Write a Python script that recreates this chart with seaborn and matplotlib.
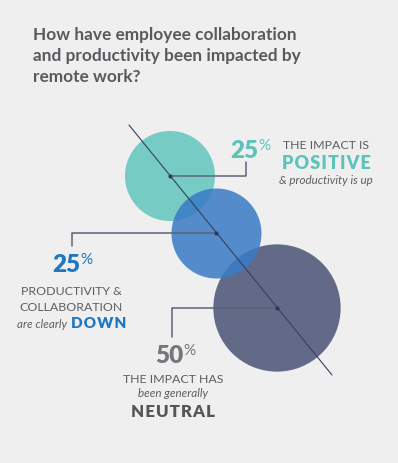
import matplotlib
matplotlib.use("Agg")
import matplotlib.pyplot as plt
import seaborn as sns
import pandas as pd

# ---- data ----
categories = ["Positive", "Down", "Neutral"]
values = [25, 25, 50]
title_lines = ["How have employee collaboration",
               "and productivity been impacted by",
               "remote work?"]

# ---- layout (pixel coords) ----
cx = [170, 216, 277]
cy = [177, 234, 309]
colors = {"Positive": "#76cbc4", "Down": "#3a7cc6", "Neutral": "#636a88"}
SIZE_PER_UNIT = 168  # pt^2 per percent (area proportional)

sns.set_theme(style="white")
plt.rcParams["font.family"] = ["Lato", "DejaVu Sans"]

BG = "#efefef"
fig = plt.figure(figsize=(3.98, 4.64), dpi=100, facecolor=BG)
ax = fig.add_axes([0, 0, 1, 1])
ax.set_facecolor(BG)

df = pd.DataFrame({"cat": categories, "val": values, "x": cx, "y": cy})
sizes = {v: v * SIZE_PER_UNIT for v in set(values)}

under = df[df.cat != "Down"]
sns.scatterplot(data=under, x="x", y="y", hue="cat", size="val", sizes=sizes,
                palette=colors, linewidth=0, alpha=1, legend=False, ax=ax, zorder=2)
top = df[df.cat == "Down"]
sns.scatterplot(data=top, x="x", y="y", hue="cat", size="val", sizes=sizes,
                palette=colors, linewidth=0, alpha=0.86, legend=False, ax=ax, zorder=3)
ax.set_xlim(0, 398)
ax.set_ylim(464, 0)
ax.axis("off")

# diagonal line through centers
ax.plot([129, 332], [126, 376], color="#34405e", lw=0.8, zorder=5)
ax.scatter(cx, cy, s=9, color="#2e3a57", zorder=6, linewidths=0)

# leader lines
LC = "#5a6379"
ax.plot([cx[0], 246, 246], [cy[0], cy[0], 163], color=LC, lw=1.1, zorder=4)
ax.plot([cx[1], 72, 72], [cy[1], cy[1], 247], color=LC, lw=1.1, zorder=4)
ax.plot([cx[2], 172, 172], [cy[2], cy[2], 338], color=LC, lw=1.1, zorder=4)

# title
TC = "#595a5e"
for i, line in enumerate(title_lines):
    ax.text(33, 40 + i * 21, line, fontsize=12.4, fontweight="bold", color=TC,
            ha="left", va="baseline")

GRAY = "#5d5e62"
TEAL = "#5cc3b9"
BLUE = "#1e77c0"
NUMG = "#76777b"

def spaced(s):
    return "\u200a".join(s)

def pct(xr, base, val, color, size=17.5):
    ax.text(xr, base, f"{val}", fontsize=size, fontweight="heavy", color=color,
            ha="right", va="baseline")
    ax.text(xr + 0.5, base - 19, "%", fontsize=11, fontweight="normal", color=color,
            ha="left", va="top")

# teal block
pct(258, 158, values[0], TEAL)
ax.text(326, 149, "THE IMPACT IS", fontsize=8.9, color=GRAY, ha="center", va="baseline")
ax.text(326, 169, spaced("POSITIVE"), fontsize=13, fontweight="heavy", color=TEAL, ha="center", va="baseline")
ax.text(326, 184, "& productivity is up", fontsize=8.4, style="italic", color=GRAY, ha="center", va="baseline")

# blue block
pct(80, 272, values[1], BLUE)
ax.text(71.5, 295, "PRODUCTIVITY &", fontsize=8.9, color=GRAY, ha="center", va="baseline")
ax.text(71.5, 311, "COLLABORATION", fontsize=8.9, color=GRAY, ha="center", va="baseline")
ax.text(67, 328, "are clearly", fontsize=8.4, style="italic", color=GRAY, ha="right", va="baseline")
ax.text(71, 328, spaced("DOWN"), fontsize=11, fontweight="heavy", color=BLUE, ha="left", va="baseline")

# neutral block
pct(183, 363, values[2], NUMG)
ax.text(173, 383, "THE IMPACT HAS", fontsize=8.9, color=GRAY, ha="center", va="baseline")
ax.text(173, 397, "been generally", fontsize=8.4, style="italic", color=GRAY, ha="center", va="baseline")
ax.text(173, 417, spaced("NEUTRAL"), fontsize=12.2, fontweight="heavy", color="#55565a", ha="center", va="baseline")

fig.savefig("out.png", dpi=100, facecolor=BG)
